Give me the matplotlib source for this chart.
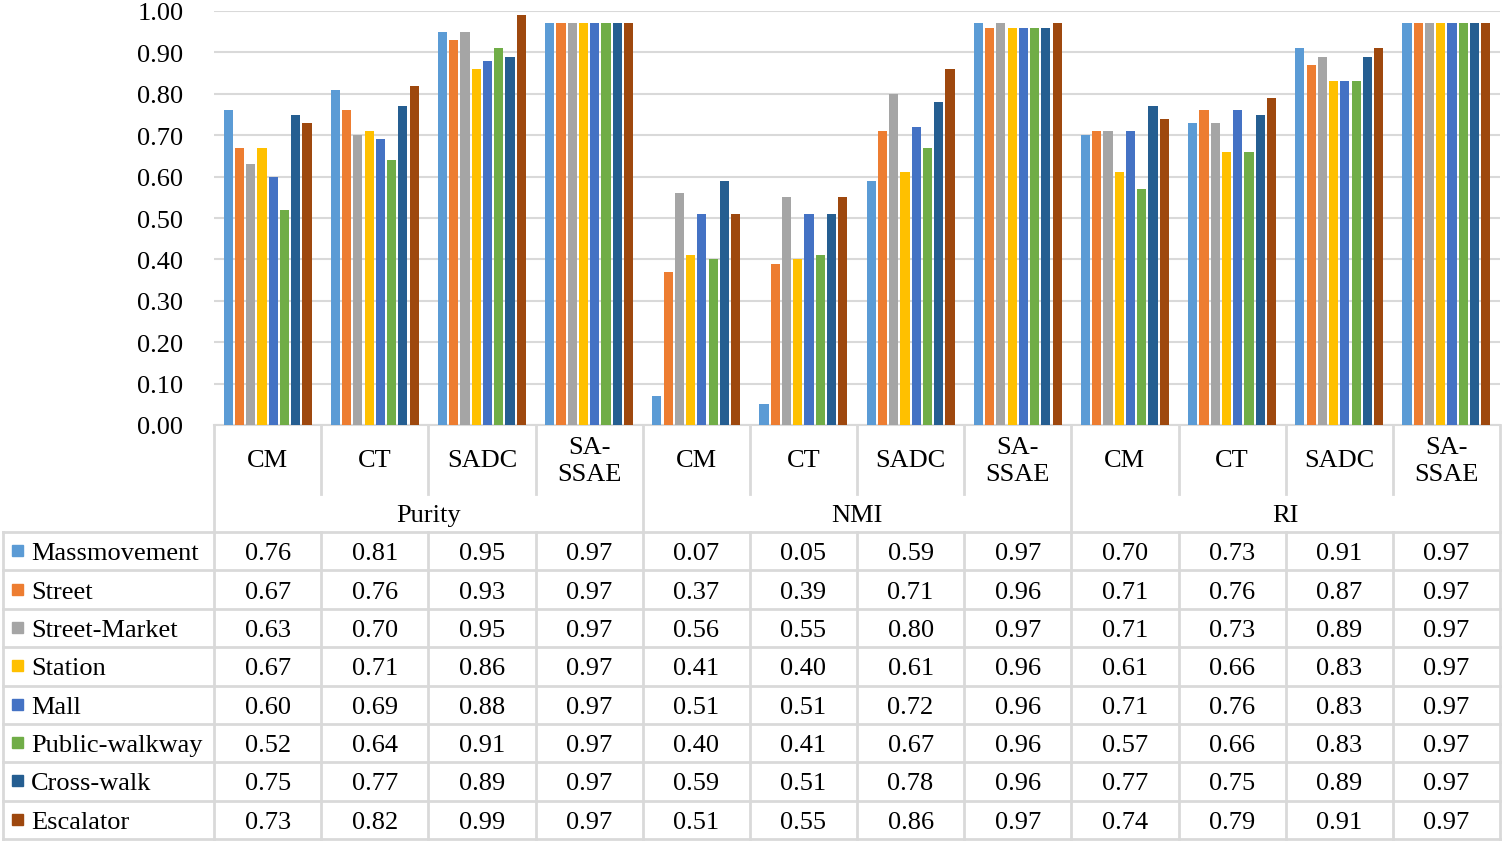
import matplotlib.pyplot as plt
import numpy as np

plt.rcParams['font.family'] = ['Liberation Serif', 'DejaVu Serif']

metrics = ['Purity', 'NMI', 'RI']
methods = ['CM', 'CT', 'SADC', 'SA-\nSSAE']
scenes = ['Massmovement', 'Street', 'Street-Market', 'Station', 'Mall',
          'Public-walkway', 'Cross-walk', 'Escalator']

# values per scene: Purity (CM, CT, SADC, SA-SSAE), NMI (...), RI (...)
massmovement = [0.76, 0.81, 0.95, 0.97, 0.07, 0.05, 0.59, 0.97, 0.70, 0.73, 0.91, 0.97]
street = [0.67, 0.76, 0.93, 0.97, 0.37, 0.39, 0.71, 0.96, 0.71, 0.76, 0.87, 0.97]
street_market = [0.63, 0.70, 0.95, 0.97, 0.56, 0.55, 0.80, 0.97, 0.71, 0.73, 0.89, 0.97]
station = [0.67, 0.71, 0.86, 0.97, 0.41, 0.40, 0.61, 0.96, 0.61, 0.66, 0.83, 0.97]
mall = [0.60, 0.69, 0.88, 0.97, 0.51, 0.51, 0.72, 0.96, 0.71, 0.76, 0.83, 0.97]
public_walkway = [0.52, 0.64, 0.91, 0.97, 0.40, 0.41, 0.67, 0.96, 0.57, 0.66, 0.83, 0.97]
cross_walk = [0.75, 0.77, 0.89, 0.97, 0.59, 0.51, 0.78, 0.96, 0.77, 0.75, 0.89, 0.97]
escalator = [0.73, 0.82, 0.99, 0.97, 0.51, 0.55, 0.86, 0.97, 0.74, 0.79, 0.91, 0.97]

series = [massmovement, street, street_market, station, mall,
          public_walkway, cross_walk, escalator]
colors = ['#5B9BD5', '#ED7D31', '#A5A5A5', '#FFC000', '#4472C4',
          '#70AD47', '#255E91', '#9E480E']

W, H = 1505, 845
fig = plt.figure(figsize=(W / 100, H / 100), dpi=100)

# layout in pixels
x0, x1 = 214, 1500
y_top, y_base = 12, 426
y_cat, y_met = 495, 533
row_h = (840 - y_met) / len(scenes)
tab_left = 3
grid_c = '#D9D9D9'
fs = 19

ax = fig.add_axes([x0 / W, 1 - y_base / H, (x1 - x0) / W, (y_base - y_top) / H])
n_groups = len(metrics) * len(methods)
xs = np.arange(n_groups)
slot = 0.105
for i, (vals, c) in enumerate(zip(series, colors)):
    ax.bar(xs + (i - 3.5) * slot, vals, width=0.085, color=c, zorder=3)
ax.set_xlim(-0.5, n_groups - 0.5)
ax.set_ylim(0, 1)
ax.set_yticks(np.arange(0, 1.01, 0.1))
ax.set_yticklabels([f'{v:.2f}' for v in np.arange(0, 1.01, 0.1)], fontsize=fs)
ax.set_xticks([])
ax.yaxis.grid(True, color=grid_c, linewidth=1.5, zorder=0)
ax.tick_params(axis='y', length=0, pad=22)
for s in ['top', 'left', 'right']:
    ax.spines[s].set_visible(False)
ax.spines['bottom'].set_color(grid_c)
ax.spines['bottom'].set_linewidth(1.5)
ax.set_axisbelow(True)

# overlay in pixel coordinates for the data table
tab = fig.add_axes([0, 0, 1, 1], zorder=5)
tab.set_xlim(0, W)
tab.set_ylim(H, 0)
tab.axis('off')
tab.patch.set_alpha(0)

gw = (x1 - x0) / n_groups
y_end = y_met + row_h * len(scenes)
lw = 2

def line(xa, ya, xb, yb):
    tab.plot([xa, xb], [ya, yb], color=grid_c, linewidth=lw, solid_capstyle='projecting')

# vertical lines
for k in range(n_groups + 1):
    xv = x0 + k * gw
    if k % len(methods) == 0:
        line(xv, y_base, xv, y_end)
    else:
        line(xv, y_base, xv, y_cat)
        line(xv, y_met, xv, y_end)
line(tab_left, y_met, tab_left, y_end)

# horizontal lines
for r in range(len(scenes) + 1):
    yh = y_met + r * row_h
    line(tab_left, yh, x1, yh)

# header text
for k in range(n_groups):
    tab.text(x0 + (k + 0.5) * gw, (y_base + y_cat) / 2 + 1, methods[k % len(methods)],
             ha='center', va='center', fontsize=fs, linespacing=1.25)
for m, name in enumerate(metrics):
    tab.text(x0 + (m + 0.5) * len(methods) * gw, (y_cat + y_met) / 2 + 2, name,
             ha='center', va='center', fontsize=fs)

# rows
for r, (name, vals, c) in enumerate(zip(scenes, series, colors)):
    yc = y_met + (r + 0.5) * row_h
    tab.add_patch(plt.Rectangle((12, yc - 6), 11, 11, color=c))
    tab.text(31, yc + 2, name, ha='left', va='center', fontsize=fs)
    for k, v in enumerate(vals):
        tab.text(x0 + (k + 0.5) * gw, yc + 2, f'{v:.2f}', ha='center', va='center', fontsize=fs)

fig.savefig('out.png', dpi=100)
